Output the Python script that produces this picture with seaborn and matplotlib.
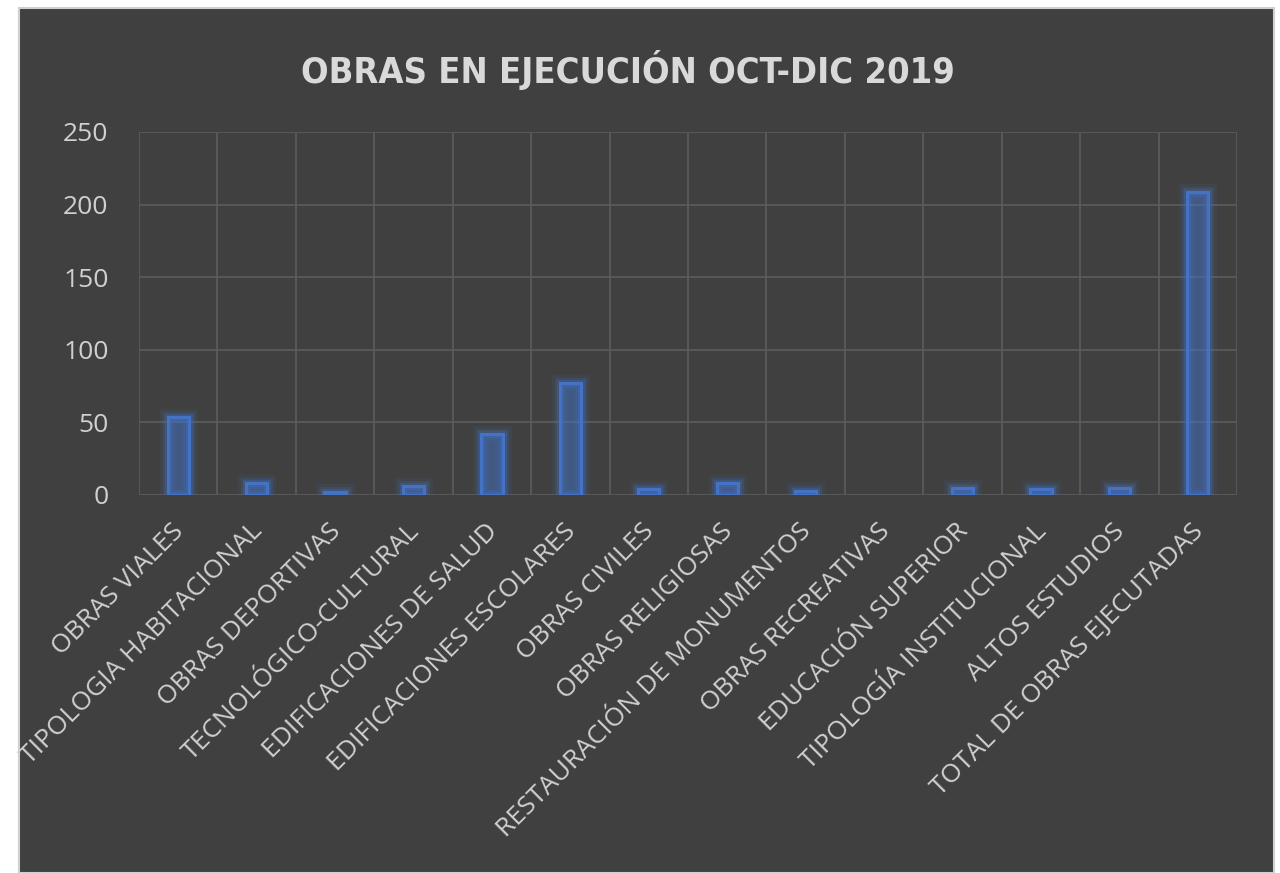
import matplotlib
matplotlib.use("Agg")
import matplotlib.pyplot as plt
import matplotlib.patheffects as pe
from matplotlib.transforms import ScaledTranslation
from matplotlib.patches import Rectangle
from matplotlib import font_manager
import seaborn as sns
import pandas as pd

categories = [
    "OBRAS VIALES", "TIPOLOGIA HABITACIONAL", "OBRAS DEPORTIVAS",
    "TECNOLÓGICO-CULTURAL", "EDIFICACIONES DE SALUD", "EDIFICACIONES ESCOLARES",
    "OBRAS CIVILES", "OBRAS RELIGIOSAS", "RESTAURACIÓN DE MONUMENTOS",
    "OBRAS RECREATIVAS", "EDUCACIÓN SUPERIOR", "TIPOLOGÍA INSTITUCIONAL",
    "ALTOS ESTUDIOS", "TOTAL DE OBRAS EJECUTADAS",
]
values = [54, 8, 2, 6, 42, 77, 4, 8, 3, 0, 5, 4, 5, 209]
yticks = [0, 50, 100, 150, 200, 250]
title = "OBRAS EN EJECUCIÓN OCT-DIC 2019"

df = pd.DataFrame({"cat": categories, "val": values})

sns.set_theme(style="dark")
names = {f.name for f in font_manager.fontManager.ttflist}
tick_font = "Open Sans" if "Open Sans" in names else "DejaVu Sans"
plt.rcParams["font.family"] = [tick_font, "DejaVu Sans"]

panel = "#404040"
blue = "#4472C4"
txt = "#d0d0d0"
grid = "#5c5c5c"

fig = plt.figure(figsize=(12.8, 8.73), dpi=100, facecolor="white")
bg = Rectangle((19 / 1280, 0), (1274 - 19) / 1280, 1 - 8 / 873,
               transform=fig.transFigure, facecolor=panel,
               edgecolor="#d0d0d0", linewidth=1.5, zorder=-10)
fig.patches.append(bg)

ax = fig.add_axes([139 / 1280, 1 - 495 / 873, (1237 - 139) / 1280, (495 - 132) / 873])
ax.set_zorder(5)
ax.set_facecolor(panel)

sns.barplot(data=df, x="cat", y="val", ax=ax, width=0.27, color=blue,
            linewidth=2.2, edgecolor=blue, zorder=3)
for p, v in zip(ax.patches, values):
    p.set_facecolor((0.27, 0.45, 0.77, 0.08))
    p.set_edgecolor(blue)
    p.set_path_effects([
        pe.Stroke(linewidth=12, foreground=blue, alpha=0.10),
        pe.Stroke(linewidth=8, foreground=blue, alpha=0.16),
        pe.Stroke(linewidth=5, foreground=blue, alpha=0.28),
        pe.Normal(),
    ])
    if v == 0:
        p.set_visible(False)

ax.set_xlim(-0.5, len(categories) - 0.5)
ax.set_ylim(0, 250)
ax.set_yticks(yticks)
ax.set_xticks(range(len(categories)))
ax.set_xticks([i - 0.5 for i in range(len(categories) + 1)], minor=True)
ax.grid(False)
ax.grid(True, axis="y", which="major", color=grid, linewidth=1.2)
ax.grid(True, axis="x", which="minor", color=grid, linewidth=1.2)
ax.set_axisbelow(True)
for s in ax.spines.values():
    s.set_visible(False)
ax.set_xlabel("")
ax.set_ylabel("")

ax.tick_params(axis="both", which="both", length=0)
ax.tick_params(axis="y", labelsize=19, labelcolor=txt, pad=22)
ax.tick_params(axis="x", labelsize=19, labelcolor=txt, pad=17)
ax.set_xticklabels(categories)
off = ScaledTranslation(-7 / 100, 0, fig.dpi_scale_trans)
for lab in ax.get_xticklabels():
    lab.set_rotation(45)
    lab.set_ha("right")
    lab.set_va("top")
    lab.set_rotation_mode("anchor")
    lab.set_transform(lab.get_transform() + off)

fig.text(628 / 1280, 1 - 70 / 873, title, ha="center", va="center",
         fontsize=26, fontweight="bold", fontstretch="condensed", color="#d9d9d9",
         family=["DejaVu Sans"], zorder=6)

fig.savefig("out.png", dpi=100, facecolor=fig.get_facecolor())
